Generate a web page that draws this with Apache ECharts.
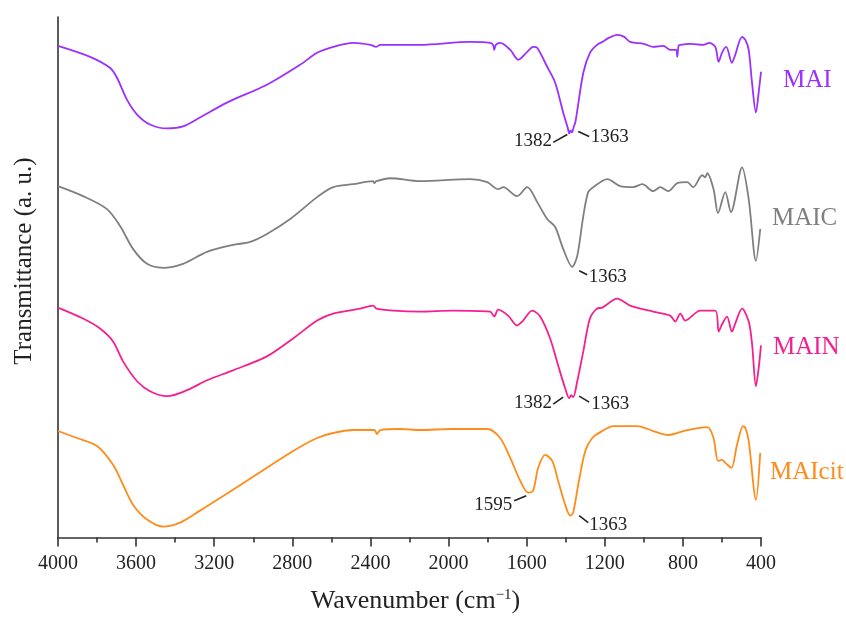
<!DOCTYPE html>
<html>
<head>
<meta charset="utf-8">
<script src="https://cdn.jsdelivr.net/npm/echarts@6/dist/echarts.min.js"></script>
<style>html,body{margin:0;padding:0;background:#fff}#c{width:846px;height:619px}</style>
</head>
<body>
<div id="c"></div>
<script>
// Wavenumber (cm-1), transmittance (a.u., stacked offsets)
const xTicks = [4000, 3600, 3200, 2800, 2400, 2000, 1600, 1200, 800, 400];
const seriesNames = ['MAI', 'MAIC', 'MAIN', 'MAIcit'];
const seriesColors = ['#9b30ff', '#7f7f7f', '#f5208f', '#ff8c1a'];

const MAI = [[4000,494],[3836,483],[3734,472],[3698,462],[3647,440],[3595,425],[3529,415],[3442,411],[3360,413],[3273,422],[3135,437],[2930,455],[2760,475],[2673,487],[2591,493],[2489,497],[2400,495],[2370,493],[2350,495],[2146,495],[1889,498],[1787,497],[1772,495],[1766,490],[1758,495],[1736,497],[1684,490],[1643,480],[1597,488],[1567,493],[1546,492],[1495,473],[1454,457],[1413,427],[1390,412],[1382,406],[1375,409],[1368,407],[1360,412],[1350,418],[1310,467],[1276,487],[1240,495],[1213,498],[1180,502],[1136,505],[1100,503],[1070,498],[1000,496],[952,493],[900,494],[865,490],[835,490],[829,483],[822,494],[813,495],[760,496],[696,495],[665,497],[634,493],[617,478],[600,487],[578,493],[549,477],[532,485],[497,503],[480,500],[463,490],[446,457],[426,427],[412,447],[400,468]];

const MAIC = [[4000,353],[3872,343],[3749,330],[3682,313],[3616,290],[3544,275],[3462,271],[3360,275],[3237,287],[3104,294],[3016,297],[2930,305],[2811,320],[2673,342],[2591,352],[2489,355],[2386,358],[2380,356],[2370,358],[2299,361],[2146,358],[1889,360],[1802,357],[1746,350],[1720,352],[1649,343],[1597,352],[1546,337],[1495,320],[1454,312],[1413,290],[1367,272],[1341,283],[1310,323],[1285,347],[1259,352],[1187,360],[1121,353],[1055,352],[1008,355],[952,348],[916,352],[875,348],[829,356],[778,357],[747,352],[701,364],[686,362],[675,366],[643,350],[620,326],[583,347],[554,327],[497,372],[463,340],[426,278],[404,310]];

const MAIN = [[4000,231],[3872,220],[3785,210],[3718,197],[3667,177],[3595,157],[3529,147],[3442,142],[3339,148],[3237,158],[3104,168],[2930,182],[2796,200],[2673,218],[2591,225],[2453,230],[2386,233],[2370,230],[2284,228],[2146,227],[1982,228],[1787,227],[1766,222],[1746,229],[1695,223],[1649,213],[1618,218],[1572,228],[1531,222],[1480,200],[1439,173],[1403,150],[1382,140],[1372,143],[1362,141],[1341,157],[1310,187],[1276,220],[1240,230],[1213,231],[1136,240],[1070,233],[952,227],[865,223],[839,217],[813,225],[788,218],[711,228],[634,228],[617,207],[600,214],[574,222],[549,207],[532,215],[497,230],[463,217],[446,195],[426,152],[412,170],[400,193]];

const MAIcit = [[4000,107],[3903,100],[3800,92],[3718,73],[3667,53],[3616,33],[3544,18],[3462,11],[3375,15],[3273,27],[3104,48],[2930,70],[2796,87],[2673,100],[2591,105],[2489,108],[2380,108],[2366,104],[2350,108],[2248,109],[2146,108],[1982,109],[1802,109],[1736,100],[1684,80],[1633,57],[1592,45],[1567,47],[1541,70],[1505,83],[1469,77],[1439,57],[1403,33],[1377,22],[1362,25],[1336,53],[1300,87],[1264,100],[1213,107],[1157,112],[1034,112],[952,107],[875,103],[778,108],[675,111],[643,100],[620,77],[600,78],[583,75],[552,70],[523,93],[492,112],[480,110],[463,97],[426,38],[404,85]];

const seriesData = [MAI, MAIC, MAIN, MAIcit];

// Peak annotations: [label, labelX, labelY, leaderX1, leaderY1, leaderX2, leaderY2] in data units
const annMAI = [['1382',1567,398,1464,397,1392,405],['1363',1175,402,1336,408,1280,403]];
const annMAIC = [['1363',1185,262,1331,268,1290,264]];
const annMAIN = [['1382',1567,135,1464,134,1413,141],['1363',1172,134,1331,142,1280,136]];
const annMAIcit = [['1595',1771,33,1664,37,1602,42],['1363',1182,13,1331,22,1285,15]];
const annotations = [annMAI, annMAIC, annMAIN, annMAIcit];

// Series name label positions (pixels) near right edge
const nameLabelPos = [[783,80],[772,218],[773,347],[770,472]];

const FONT = 'Liberation Serif';
const chart = echarts.init(document.getElementById('c'));

const series = seriesData.map((d, i) => ({
  type: 'line',
  name: seriesNames[i],
  data: d.slice().reverse(),
  showSymbol: false,
  smooth: 0.3,
  lineStyle: { color: seriesColors[i], width: 1.8 },
  itemStyle: { color: seriesColors[i] },
  silent: true,
  markPoint: {
    symbol: 'circle', symbolSize: 0, silent: true,
    label: { show: true, position: 'inside', formatter: '{b}', color: '#222', fontSize: 19, fontFamily: FONT },
    data: annotations[i].map(a => ({ name: a[0], coord: [a[1], a[2]] }))
  },
  markLine: {
    symbol: ['none', 'none'], silent: true,
    label: { show: false },
    lineStyle: { color: '#222', width: 1.6, type: 'solid' },
    data: annotations[i].map(a => [{ coord: [a[3], a[4]] }, { coord: [a[5], a[6]] }])
  }
}));

const graphics = seriesNames.map((n, i) => ({
  type: 'text', x: nameLabelPos[i][0], y: nameLabelPos[i][1],
  style: { text: n, fill: seriesColors[i], font: '25px "' + FONT + '"', textAlign: 'left', textVerticalAlign: 'middle' }
}));
graphics.push({
  type: 'text', x: 24, y: 261, rotation: Math.PI / 2,
  style: { text: 'Transmittance (a. u.)', fill: '#222', font: '25px "' + FONT + '"', textAlign: 'center', textVerticalAlign: 'middle' }
});

chart.setOption({
  animation: false,
  backgroundColor: '#fff',
  grid: { left: 58, right: 85, top: 17, bottom: 79 },
  xAxis: {
    type: 'value', inverse: true, min: 400, max: 4000, interval: 400,
    axisLine: { show: true, lineStyle: { color: '#333', width: 1.6 } },
    axisTick: { show: true, inside: false, length: 9, lineStyle: { color: '#333', width: 1.6 } },
    minorTick: { show: true, splitNumber: 2, length: 5, lineStyle: { color: '#333', width: 1.6 } },
    splitLine: { show: false },
    axisLabel: { fontSize: 20, fontFamily: FONT, color: '#222', margin: 16,
      formatter: v => xTicks.includes(v) ? String(v) : '' },
    name: 'Wavenumber (cm{sup|−1})',
    nameLocation: 'middle', nameGap: 50,
    nameTextStyle: { fontSize: 26, fontFamily: FONT, color: '#222', padding: [0, 0, 0, 12],
      rich: { sup: { fontSize: 15, fontFamily: FONT, color: '#222', verticalAlign: 'top', padding: [0, 0, 12, 0] } } }
  },
  yAxis: {
    type: 'value', min: 0, max: 523,
    axisLine: { show: true, lineStyle: { color: '#333', width: 1.6 } },
    axisTick: { show: false }, axisLabel: { show: false }, splitLine: { show: false }
  },
  graphic: graphics,
  series: series
});
</script>
</body>
</html>
